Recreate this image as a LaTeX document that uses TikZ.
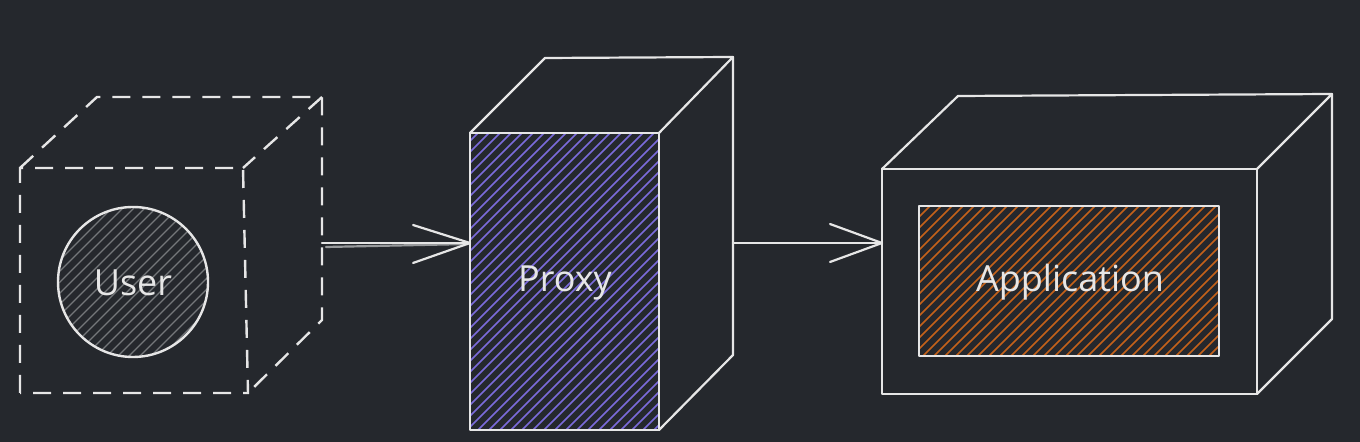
\documentclass[tikz,border=0pt]{standalone}
\usepackage{fontspec}
\setmainfont{Open Sans}
\definecolor{bg}{HTML}{25282D}
\definecolor{ink}{HTML}{E6E6E6}
\definecolor{hgray}{HTML}{74777A}
\definecolor{hpurple}{HTML}{7B6BDB}
\definecolor{horange}{HTML}{C4621A}
\tikzset{
  edge/.style={draw=ink, line width=1.1pt, line cap=round, line join=round},
  dashedge/.style={draw=ink, line width=1.2pt, dash pattern=on 9pt off 6pt},
  hatchline/.style={line width=0.85pt},
  lbl/.style={text=ink, font=\fontsize{18}{21}\selectfont, inner sep=0pt},
  headline/.style={edge}
}
\begin{document}
\begin{tikzpicture}[x=0.5pt,y=-0.5pt]
\fill[bg] (0,0) rectangle (1360,442);
\useasboundingbox (0,0) rectangle (1360,442);

% ---------- corner coordinates ----------
% user cube
\coordinate (uf-tl) at (20,168);
\coordinate (uf-tr) at (243,168);
\coordinate (uf-br) at (248,393);
\coordinate (uf-bl) at (20,393);
\coordinate (ub-tl) at (97,97);
\coordinate (ub-tr) at (322,97);
\coordinate (ub-br) at (322,320);
\coordinate (u-out) at (322,243);
% proxy
\coordinate (pf-tl) at (470,133);
\coordinate (pf-tr) at (659,133);
\coordinate (pf-br) at (659,430);
\coordinate (pf-bl) at (470,430);
\coordinate (pb-tl) at (545,58);
\coordinate (pb-tr) at (733,57);
\coordinate (pb-br) at (733,355);
\coordinate (p-in) at (470,243);
\coordinate (p-out) at (733,243);
% application
\coordinate (af-tl) at (882,169);
\coordinate (af-tr) at (1257,169);
\coordinate (af-br) at (1257,394);
\coordinate (af-bl) at (882,394);
\coordinate (ab-tl) at (958,96);
\coordinate (ab-tr) at (1332,94);
\coordinate (ab-br) at (1332,319);
\coordinate (a-in) at (882,243);
\coordinate (ai-tl) at (919,206);
\coordinate (ai-br) at (1219,356);

% ---------- hatch fills ----------
\begin{scope}
  \clip (133,282) circle (75);
  \foreach \c in {-150,-139,...,150}
    \draw[hatchline, hgray, line width=0.7pt] (58+\c,357) -- (208+\c,207);
\end{scope}
\begin{scope}
  \clip (pf-tl) rectangle (pf-br);
  \foreach \c in {-300,-289,...,192}
    \draw[hatchline, hpurple] (470+\c,430) -- (767+\c,133);
\end{scope}
\begin{scope}
  \clip (ai-tl) rectangle (ai-br);
  \foreach \c in {-150,-139,...,300}
    \draw[hatchline, horange] (919+\c,356) -- (1069+\c,206);
\end{scope}

% ---------- user cube (dashed) ----------
\draw[dashedge] (uf-bl) -- (uf-tl) -- (uf-tr) -- (uf-br) -- cycle;
\draw[dashedge] (uf-tl) -- (ub-tl) -- (ub-tr) -- (ub-br) -- (uf-br);
\draw[dashedge] (ub-tr) -- (uf-tr);
\draw[edge, line width=1.2pt] (133,282) circle (75);
\node[lbl] (user) at (133,283) {User};

% ---------- proxy ----------
\draw[edge] (pf-tl) rectangle (pf-br);
\draw[edge] (pf-tl) -- (pb-tl) -- (pb-tr) -- (pf-tr);
\draw[edge] (pb-tr) -- (pb-br) -- (pf-br);
\node[lbl] (proxy) at (565,283) {Proxy};

% ---------- application ----------
\draw[edge] (af-tl) rectangle (af-br);
\draw[edge] (af-tl) -- (ab-tl) -- (ab-tr) -- (af-tr);
\draw[edge] (ab-tr) -- (ab-br) -- (af-br);
\draw[edge] (ai-tl) rectangle (ai-br);
\node[lbl] (app) at (1070,282) {Application};

% ---------- arrows ----------
\draw[edge] (u-out) -- (p-in);
\draw[edge, opacity=0.6] ([shift={(4,4)}]u-out) -- ([shift={(-2,1)}]p-in);
\draw[headline] ([shift={(-57,-18)}]p-in) -- (p-in) -- ([shift={(-57,20)}]p-in);
\draw[edge] (p-out) -- (a-in);
\draw[headline] ([shift={(-52,-19)}]a-in) -- (a-in) -- ([shift={(-52,19)}]a-in);
\end{tikzpicture}
\end{document}
